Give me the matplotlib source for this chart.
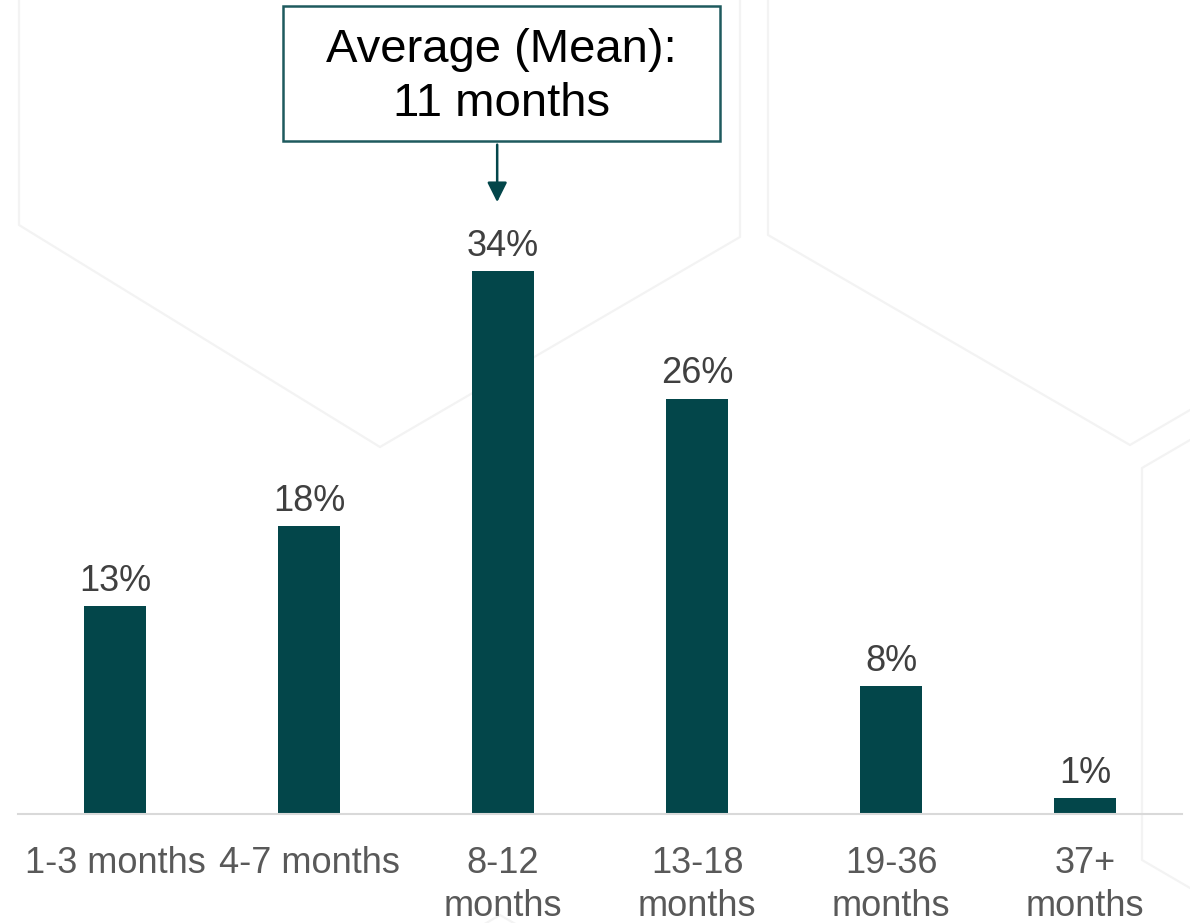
import matplotlib.pyplot as plt
from matplotlib.lines import Line2D
from matplotlib.patches import Rectangle

# data
categories = ['1-3 months', '4-7 months', '8-12\nmonths', '13-18\nmonths',
              '19-36\nmonths', '37+\nmonths']
shares = [13, 18, 34, 26, 8, 1]
mean_text = 'Average (Mean):\n11 months'
mean_bar = 2

bar_color = '#03464A'
W, H = 1190, 923

plt.rcParams['font.family'] = ['Liberation Sans', 'DejaVu Sans']

fig = plt.figure(figsize=(W / 100, H / 100), dpi=100)


def px(points):
    """pixel (x, y from top) -> figure fraction lists"""
    xs = [p[0] / W for p in points]
    ys = [1 - p[1] / H for p in points]
    return xs, ys


# faint hexagon outlines in the background
hexes = [
    [(19, 0), (19, 225), (380, 447), (740, 237), (740, 0)],
    [(768, 0), (768, 235), (1130, 445), (1190, 410)],
    [(1190, 440), (1142, 468), (1142, 860), (1190, 888)],
    [(440, 950), (500, 915), (560, 950)],
]
for pts in hexes:
    xs, ys = px(pts)
    fig.add_artist(Line2D(xs, ys, transform=fig.transFigure, color='#f3f3f3',
                          lw=1.6, solid_joinstyle='round', zorder=0))

ax = fig.add_axes([18 / W, (H - 814) / H, (1182 - 18) / W, 639 / H])
ax.patch.set_alpha(0)

x = range(len(categories))
bars = ax.bar(x, shares, width=0.315, color=bar_color)

ax.set_xlim(-0.5, len(categories) - 0.5)
ax.set_ylim(0, 40)

# value labels
for bar, v in zip(bars, shares):
    ax.text(bar.get_x() + bar.get_width() / 2, v + 0.45, f'{v}%',
            ha='center', va='bottom', fontsize=26, color='#404040')

ax.set_xticks(list(x))
ax.set_xticklabels(categories, fontsize=26, color='#595959', linespacing=1.28)
ax.tick_params(axis='x', length=0, pad=23)
ax.set_yticks([])
for side in ['left', 'right', 'top']:
    ax.spines[side].set_visible(False)
ax.spines['bottom'].set_color('#d9d9d9')
ax.spines['bottom'].set_linewidth(1.5)

# mean callout box
fig.patches.append(Rectangle((283 / W, 1 - 141 / H), 437 / W, 135 / H,
                             transform=fig.transFigure, fill=False,
                             edgecolor='#1E5A5E', linewidth=1.8))
fig.text(501.5 / W, 1 - 77 / H, mean_text, ha='center', va='center',
         fontsize=34, color='black', linespacing=1.31)

# arrow from the box down to the mean bar
ax.annotate('', xy=(mean_bar - 0.03, 38.3), xytext=(mean_bar - 0.03, 41.9),
            annotation_clip=False,
            arrowprops=dict(arrowstyle='-|>', color='#03464A', lw=1.8,
                            mutation_scale=30, shrinkA=0, shrinkB=0))

fig.savefig('out.png', dpi=100)
